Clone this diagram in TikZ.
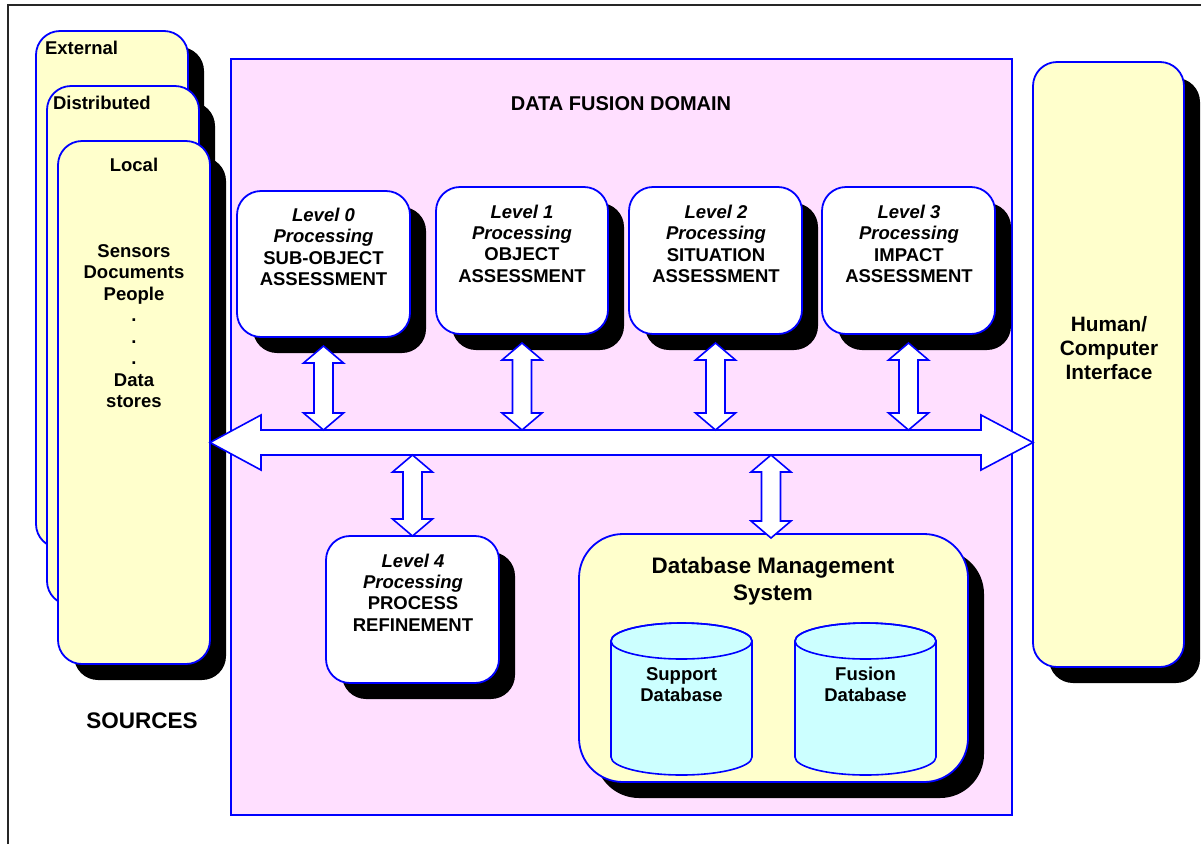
\documentclass[tikz,border=0pt]{standalone}
\usepackage{fontspec}
\setmainfont{Liberation Sans}
\usetikzlibrary{calc,shadows}

\definecolor{srcyellow}{RGB}{255,255,204}
\definecolor{domainpink}{RGB}{255,223,255}
\definecolor{dbcyan}{RGB}{204,255,255}
\definecolor{edgeblue}{RGB}{0,0,255}

% vertical two-headed block arrow between two points (top tip, bottom tip)
\newcommand\biarrowv[2]{%
  \draw[blockarrow] let \p1=(#1), \p2=(#2) in
    (\x1,\y1) -- (\x1+20pt,\y1-17pt) -- (\x1+9.5pt,\y1-17pt)
    -- (\x1+9.5pt,\y2+17pt) -- (\x1+20pt,\y2+17pt) -- (\x1,\y2)
    -- (\x1-20pt,\y2+17pt) -- (\x1-9.5pt,\y2+17pt)
    -- (\x1-9.5pt,\y1-17pt) -- (\x1-20pt,\y1-17pt) -- cycle;}

% database drum centred on a named coordinate (centre of its top ellipse)
\newcommand\dbdrum[1]{%
  \filldraw[drum] let \p1=(#1) in
    (\x1-70.5pt,\y1) -- (\x1-70.5pt,\y1-116pt)
    arc[start angle=180,end angle=360,x radius=70.5pt,y radius=18pt]
    -- (\x1+70.5pt,\y1)
    arc[start angle=0,end angle=180,x radius=70.5pt,y radius=18pt] -- cycle;
  \draw[drum,fill=none] (#1) ellipse[x radius=70.5pt,y radius=18pt];}

\begin{document}
\begin{tikzpicture}[x=1pt,y=-1pt,
  every node/.style={inner sep=0pt,outer sep=0pt},
  box/.style={draw=edgeblue,line width=1.8pt,rounded corners=24pt,anchor=north west,
    drop shadow={shadow xshift=16pt,shadow yshift=-16pt,fill=black,opacity=1,draw=none}},
  srcbox/.style={box,fill=srcyellow,minimum width=152pt},
  levelbox/.style={box,fill=white,minimum width=173pt,minimum height=147pt},
  blockarrow/.style={draw=edgeblue,line width=1.6pt,fill=white,line join=miter},
  drum/.style={draw=edgeblue,line width=1.6pt,fill=dbcyan},
  txt/.style={font=\fontsize{18.5}{21.3}\selectfont\bfseries,align=center},
  srctxt/.style={font=\fontsize{18.5}{21.5}\selectfont\bfseries,align=center},
  bigtxt/.style={font=\fontsize{22.5}{27}\selectfont\bfseries,align=center}]

\useasboundingbox (0,0) rectangle (1201,844);
\fill[white] (0,0) rectangle (1201,844);

% outer frame
\draw[line width=2pt,black!85] (7.5,844) -- (7.5,5) -- (1201,5);

% data fusion domain
\node[draw=edgeblue,line width=1.8pt,fill=domainpink,anchor=north west,
  minimum width=781pt,minimum height=756pt] (dom) at (231,59) {};
\node[font=\fontsize{20}{24}\selectfont\bfseries] (domT) at (621,104) {DATA FUSION DOMAIN};

% sources stack
\node[srcbox,minimum height=517pt] (ext) at (36,31) {};
\node[font=\fontsize{18.5}{22}\selectfont\bfseries,anchor=west] (extT) at (45,48) {External};
\node[srcbox,minimum height=519pt] (dist) at (47,86) {};
\node[font=\fontsize{18.5}{22}\selectfont\bfseries,anchor=west] (distT) at (53,103) {Distributed};
\node[srcbox,minimum height=523pt] (local) at (58,141) {};
\node[srctxt] (localT) at (134,165) {Local};
\node[srctxt] (localL) at (134,326.3) {Sensors\\Documents\\People\\.\\.\\.\\Data\\stores};
\node[bigtxt] (srcT) at (142,721) {SOURCES};

% processing levels 0-3
\node[levelbox,minimum height=146pt] (l0) at (237,191) {};
\node[txt] (l0T) at (323.5,247) {\textit{Level 0}\\\textit{Processing}\\SUB-OBJECT\\ASSESSMENT};
\node[levelbox,minimum width=172pt] (l1) at (436,187) {};
\node[txt] (l1T) at (522,243.5) {\textit{Level 1}\\\textit{Processing}\\OBJECT\\ASSESSMENT};
\node[levelbox] (l2) at (629,187) {};
\node[txt] (l2T) at (716,244) {\textit{Level 2}\\\textit{Processing}\\SITUATION\\ASSESSMENT};
\node[levelbox] (l3) at (822,187) {};
\node[txt] (l3T) at (909,244) {\textit{Level 3}\\\textit{Processing}\\IMPACT\\ASSESSMENT};

% level 4
\node[levelbox] (l4) at (326,536) {};
\node[txt] (l4T) at (413,592.5) {\textit{Level 4}\\\textit{Processing}\\PROCESS\\REFINEMENT};

% database management system
\node[box,fill=srcyellow,rounded corners=44pt,minimum width=389pt,minimum height=248pt] (db) at (579,534) {};
\node[bigtxt,font=\fontsize{22.4}{27}\selectfont\bfseries] (dbT) at (773,581) {Database Management\\System};
\coordinate (supc) at (681.5,641);
\coordinate (fusc) at (865.5,641);
\dbdrum{supc}
\dbdrum{fusc}
\node[txt] (supT) at (681.5,684.5) {Support\\Database};
\node[txt] (fusT) at (865.5,684.5) {Fusion\\Database};

% human/computer interface
\node[srcbox,minimum width=151pt,minimum height=605pt] (hci) at (1033,62) {};
\node[font=\fontsize{20.8}{24}\selectfont\bfseries,align=center] (hciT) at (1109,348) {Human/\\Computer\\Interface};

% bus levels
\coordinate (bustop) at (0,430);
\coordinate (busmid) at (0,442.5);
\coordinate (busbot) at (0,455);

% horizontal two-headed bus arrow
\draw[blockarrow] let \p1=(local.east |- busmid), \p2=(hci.west |- busmid) in
  (\x1,\y1) -- (\x1+51pt,\y1+27.5pt) -- (\x1+51pt,\y1+12.5pt)
  -- (\x2-52pt,\y1+12.5pt) -- (\x2-52pt,\y1+27.5pt) -- (\x2,\y1)
  -- (\x2-52pt,\y1-27.5pt) -- (\x2-52pt,\y1-12.5pt)
  -- (\x1+51pt,\y1-12.5pt) -- (\x1+51pt,\y1-27.5pt) -- cycle;

% links from the levels to the bus
\coordinate (l0a) at ($(l0.south)+(0,9)$);
\coordinate (l1a) at ($(l1.south)+(0,9)$);
\coordinate (l2a) at ($(l2.south)+(0,9)$);
\coordinate (l3a) at ($(l3.south)+(0,9)$);
\biarrowv{l0a}{l0.south |- bustop}
\biarrowv{l1a}{l1.south |- bustop}
\biarrowv{l2a}{l2.south |- bustop}
\biarrowv{l3a}{l3.south |- bustop}
\biarrowv{l4.north |- busbot}{l4.north}
\coordinate (dbin) at ($(db.north)+(-2.5,4)$);
\biarrowv{dbin |- busbot}{dbin}

\end{tikzpicture}
\end{document}
